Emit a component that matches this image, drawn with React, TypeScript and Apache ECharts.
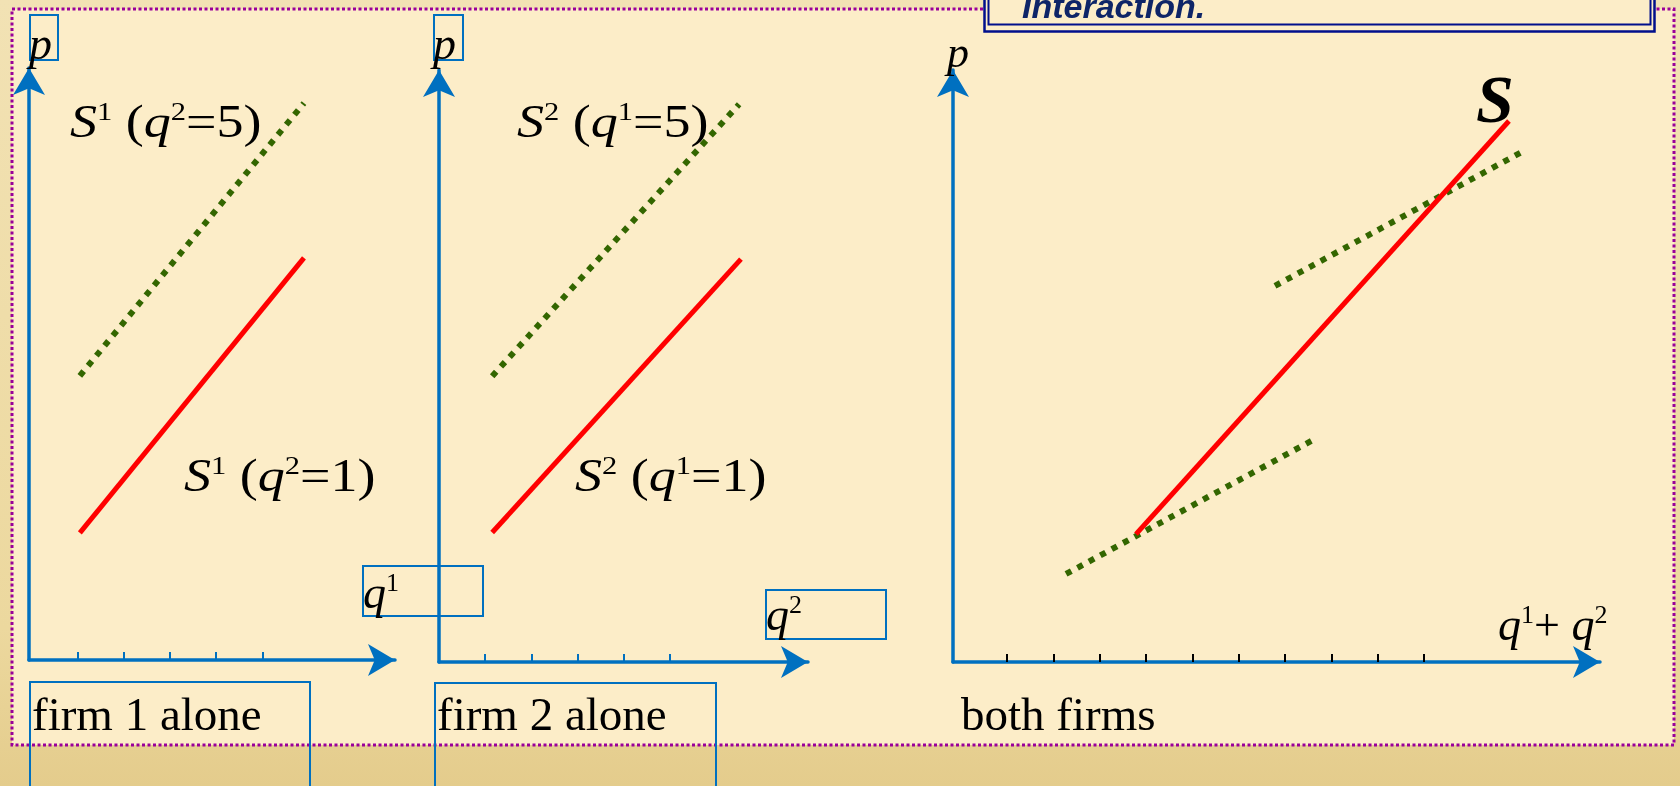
import React, { useEffect, useRef } from "react";
import * as echarts from "echarts";

// ---------- data ----------
// Panel 1: firm 1 alone (q¹ on x, p on y)
const firm1Ticks = [1, 2, 3, 4, 5];
const s1WithQ2Is1 = [[1.05, 2.75], [5.9, 8.7]];
const s1WithQ2Is5 = [[1.05, 6.15], [5.9, 12.05]];
// Panel 2: firm 2 alone (q² on x, p on y)
const firm2Ticks = [1, 2, 3, 4, 5];
const s2WithQ1Is1 = [[1.15, 2.8], [6.53, 8.71]];
const s2WithQ1Is5 = [[1.15, 6.18], [6.49, 12.06]];
// Panel 3: both firms (q¹ + q² on x, p on y)
const bothTicks = [1, 2, 3, 4, 5, 6, 7, 8, 9, 10];
const industrySupply = [[3.78, 2.76], [11.83, 11.68]];
const lowInteraction = [[2.27, 1.9], [7.67, 4.83]];
const highInteraction = [[6.78, 8.12], [12.18, 11.05]];

// axis ranges
const xRange1 = [-0.05, 7.87];
const yRange1 = [0, 12.81];
const xRange2 = [0, 7.98];
const yRange2 = [0, 12.8];
const xRange3 = [-0.17, 13.795];
const yRange3 = [0, 12.78];

const panelLabels = ["firm 1 alone", "firm 2 alone", "both firms"];
const titleText = "Interaction.";

const AXIS_BLUE = "#0070c0";
const RED = "#ff0000";
const GREEN = "#336600";
const SERIF = "'Liberation Serif', 'Times New Roman', serif";
const SANS = "'Liberation Sans', Arial, sans-serif";

function mathRich(main: number, sup: number, supLH: number) {
  return {
    it: { fontFamily: SERIF, fontStyle: "italic", fontSize: main, lineHeight: main, fill: "#000" },
    rm: { fontFamily: SERIF, fontSize: main, lineHeight: main, fill: "#000" },
    sup: { fontFamily: SERIF, fontSize: sup, lineHeight: supLH, verticalAlign: "top", fill: "#000" },
  };
}

function App() {
  const ref = useRef<HTMLDivElement>(null);
  useEffect(() => {
    if (!ref.current) return;
    const chart = echarts.init(ref.current, null, { renderer: "svg" });

    const arrowSize = [24, 27];
    const mkX = (idx: number, range: number[], ticks: number[], tickColor: string) => ({
      type: "value",
      gridIndex: idx,
      min: range[0],
      max: range[1],
      axisLine: {
        show: true,
        onZero: false,
        symbol: ["none", "arrow"],
        symbolSize: arrowSize,
        lineStyle: { color: AXIS_BLUE, width: 3.5 },
      },
      axisTick: {
        show: true,
        inside: true,
        length: 8,
        customValues: ticks,
        lineStyle: { color: tickColor, width: 2 },
      },
      axisLabel: { show: false },
      splitLine: { show: false },
    });
    const mkY = (idx: number, range: number[]) => ({
      type: "value",
      gridIndex: idx,
      min: range[0],
      max: range[1],
      axisLine: {
        show: true,
        onZero: false,
        symbol: ["none", "arrow"],
        symbolSize: arrowSize,
        lineStyle: { color: AXIS_BLUE, width: 3.5 },
      },
      axisTick: { show: false },
      axisLabel: { show: false },
      splitLine: { show: false },
    });

    const redLine = (data: number[][], idx: number) => ({
      type: "line",
      xAxisIndex: idx,
      yAxisIndex: idx,
      data,
      symbol: "none",
      z: 5,
      lineStyle: { color: RED, width: 5, cap: "butt" },
    });
    const greenLine = (data: number[][], idx: number) => ({
      type: "line",
      xAxisIndex: idx,
      yAxisIndex: idx,
      data,
      symbol: "none",
      z: 4,
      lineStyle: { color: GREEN, width: 6, type: [6, 7], cap: "butt" },
    });

    const boxStyle = { stroke: AXIS_BLUE, lineWidth: 2, fill: "transparent" };

    const txt = (x: number, y: number, text: string, rich: any, extra: any = {}) => ({
      type: "text",
      x,
      y,
      z: 100,
      ...extra,
      style: { text, rich, verticalAlign: "top", align: "left" },
    });

    const labelRich = mathRich(46, 26, 21.6);
    const qRich = mathRich(46, 26, 36.3);

    const option: any = {
      animation: false,
      grid: [
        { left: 29, top: 68, width: 366, height: 592 },
        { left: 439, top: 70, width: 369, height: 592 },
        { left: 953, top: 70, width: 647, height: 592 },
      ],
      xAxis: [
        mkX(0, xRange1, firm1Ticks, AXIS_BLUE),
        mkX(1, xRange2, firm2Ticks, AXIS_BLUE),
        mkX(2, xRange3, bothTicks, "#000000"),
      ],
      yAxis: [mkY(0, yRange1), mkY(1, yRange2), mkY(2, yRange3)],
      series: [
        greenLine(s1WithQ2Is5, 0),
        redLine(s1WithQ2Is1, 0),
        greenLine(s2WithQ1Is5, 1),
        redLine(s2WithQ1Is1, 1),
        greenLine(lowInteraction, 2),
        greenLine(highInteraction, 2),
        redLine(industrySupply, 2),
      ],
      graphic: [
        // page background and slide area
        {
          type: "rect",
          z: -100,
          shape: { x: 0, y: 0, width: 1680, height: 786 },
          style: {
            fill: new echarts.graphic.LinearGradient(0, 0, 0, 1, [
              { offset: 0, color: "#f2e2b4" },
              { offset: 0.8, color: "#ecd89e" },
              { offset: 1, color: "#e4cc8c" },
            ]),
          },
        },
        {
          type: "rect",
          z: -99,
          shape: { x: 12, y: 9, width: 1662, height: 736 },
          style: { fill: "#fcedc8", stroke: "#990099", lineWidth: 3, lineDash: [3, 2.5] },
        },
        // title box
        {
          type: "rect",
          z: 50,
          shape: { x: 984.5, y: -30, width: 670, height: 61.5 },
          style: { fill: "#fcedc8", stroke: "#000f8c", lineWidth: 2.5 },
        },
        {
          type: "rect",
          z: 51,
          shape: { x: 988.5, y: -30, width: 662, height: 54.5 },
          style: { fill: "transparent", stroke: "#000f8c", lineWidth: 2 },
        },
        {
          type: "text",
          z: 52,
          x: 1022,
          y: -11,
          style: {
            text: titleText,
            fontFamily: SANS,
            fontWeight: "bold",
            fontStyle: "italic",
            fontSize: 34,
            lineHeight: 34,
            fill: "#0e2568",
            verticalAlign: "top",
          },
        },
        // blue text boxes
        { type: "rect", z: 90, shape: { x: 30, y: 15, width: 28, height: 45 }, style: boxStyle },
        { type: "rect", z: 90, shape: { x: 434, y: 15, width: 29, height: 45 }, style: boxStyle },
        { type: "rect", z: 90, shape: { x: 363, y: 566, width: 120, height: 50 }, style: boxStyle },
        { type: "rect", z: 90, shape: { x: 766, y: 590, width: 120, height: 49 }, style: boxStyle },
        { type: "rect", z: 90, shape: { x: 30, y: 682, width: 280, height: 130 }, style: boxStyle },
        { type: "rect", z: 90, shape: { x: 435, y: 683, width: 281, height: 130 }, style: boxStyle },
        // axis names
        txt(29, 20.5, "{it|p}", mathRich(46, 24, 24)),
        txt(433, 20.5, "{it|p}", mathRich(46, 24, 24)),
        txt(947, 30, "{it|p}", mathRich(44, 24, 24)),
        txt(363, 569, "{it|q}{sup|1}", qRich),
        txt(766, 591.5, "{it|q}{sup|2}", qRich),
        txt(1498, 601.5, "{it|q}{sup|1}{rm|+ }{it|q}{sup|2}", mathRich(46, 26, 31.3)),
        // curve labels
        txt(70, 98.5, "{it|S}{sup|1}{rm| (}{it|q}{sup|2}{rm|=5)}", labelRich, { scaleX: 1.175 }),
        txt(517, 98.5, "{it|S}{sup|2}{rm| (}{it|q}{sup|1}{rm|=5)}", labelRich, { scaleX: 1.175 }),
        txt(184, 452.5, "{it|S}{sup|1}{rm| (}{it|q}{sup|2}{rm|=1)}", labelRich, { scaleX: 1.175 }),
        txt(575, 452.5, "{it|S}{sup|2}{rm| (}{it|q}{sup|1}{rm|=1)}", labelRich, { scaleX: 1.175 }),
        {
          type: "text",
          z: 100,
          x: 1476,
          y: 65,
          style: {
            text: "S",
            fontFamily: SERIF,
            fontWeight: "bold",
            fontStyle: "italic",
            fontSize: 68,
            lineHeight: 68,
            fill: "#000",
            verticalAlign: "top",
          },
        },
        // panel captions
        ...panelLabels.map((t, i) => ({
          type: "text",
          z: 100,
          x: [32, 437, 961][i],
          y: 690.5,
          style: {
            text: t,
            fontFamily: SERIF,
            fontSize: 47,
            lineHeight: 47,
            fill: "#000",
            verticalAlign: "top",
          },
        })),
      ],
    };

    chart.setOption(option);
    return () => chart.dispose();
  }, []);

  return (
    <div
      ref={ref}
      style={{ position: "fixed", left: 0, top: 0, width: 1680, height: 786 }}
    />
  );
}

export default App;
